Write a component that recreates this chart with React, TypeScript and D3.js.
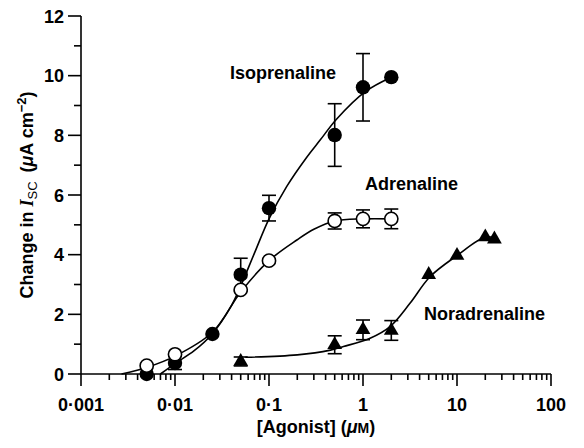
import React, { useEffect, useRef } from 'react'
import * as d3 from 'd3'

// measured points (concentration in µM, change in Isc)
const isoConc = [0.005, 0.01, 0.025, 0.05, 0.1, 0.5, 1, 2]
const isoMean = [0, 0.37, 1.34, 3.33, 5.56, 8.01, 9.61, 9.95]
const isoErr = [0, 0.22, 0, 0.55, 0.43, 1.05, 1.13, 0]

const adrConc = [0.005, 0.01, 0.05, 0.1, 0.5, 1, 2]
const adrMean = [0.28, 0.66, 2.82, 3.8, 5.13, 5.2, 5.2]
const adrErr = [0, 0, 0, 0, 0.27, 0.3, 0.33]

const norConc = [0.05, 0.5, 1, 2, 5, 10, 20, 25]
const norMean = [0.42, 0.98, 1.48, 1.46, 3.33, 3.97, 4.59, 4.52]
const norErr = [0.15, 0.3, 0.33, 0.33, 0, 0, 0, 0]

// fitted curves
const isoCurveX = [0.007, 0.01, 0.016, 0.025, 0.04, 0.05, 0.07, 0.1, 0.154, 0.25, 0.35, 0.525, 1.05, 2]
const isoCurveY = [0, 0.35, 0.78, 1.35, 2.3, 2.95, 4.05, 5.2, 6.28, 7.25, 7.84, 8.55, 9.46, 9.95]
const adrCurveX = [0.0027, 0.005, 0.01, 0.025, 0.05, 0.1, 0.2, 0.3, 0.5, 1, 2]
const adrCurveY = [0, 0.22, 0.6, 1.4, 2.75, 3.8, 4.5, 4.85, 5.13, 5.2, 5.2]
const norCurveX = [0.056, 0.2, 0.45, 0.62, 1.19, 1.94, 3.16, 5.16, 10, 20, 25]
const norCurveY = [0.56, 0.64, 0.8, 0.92, 1.2, 1.59, 2.37, 3.26, 3.97, 4.59, 4.55]

const xTicks = [0.001, 0.01, 0.1, 1, 10, 100]
const xTickLabels = ['0·001', '0·01', '0·1', '1', '10', '100']
const yTicks = [0, 2, 4, 6, 8, 10, 12]

const FONT = '"Liberation Sans", Arial, Helvetica, sans-serif'

const App = () => {
  const ref = useRef<SVGSVGElement | null>(null)

  useEffect(() => {
    if (!ref.current) return
    const svg = d3.select(ref.current)
    svg.selectAll('*').remove()

    const x = d3.scaleLog().domain([0.001, 100]).range([81, 551])
    const y = d3.scaleLinear().domain([0, 12]).range([374, 16])

    // axes
    const xAxis = svg.append('g').attr('transform', `translate(0,${y(0)})`)
    const minor: number[] = []
    for (let e = -3; e < 2; e++) for (let m = 2; m < 10; m++) minor.push(m * Math.pow(10, e))
    xAxis.append('line').attr('x1', x(0.001)).attr('x2', x(100)).attr('stroke', '#000').attr('stroke-width', 1.6)
    xAxis.selectAll('.minor').data(minor).enter().append('line')
      .attr('x1', d => x(d)).attr('x2', d => x(d)).attr('y1', 0).attr('y2', 6)
      .attr('stroke', '#000').attr('stroke-width', 1.6)
    xAxis.selectAll('.major').data(xTicks).enter().append('line')
      .attr('x1', d => x(d)).attr('x2', d => x(d)).attr('y1', 0).attr('y2', 12)
      .attr('stroke', '#000').attr('stroke-width', 1.6)
    xAxis.selectAll('.lab').data(xTicks).enter().append('text')
      .attr('x', d => x(d)).attr('y', 37).attr('text-anchor', 'middle')
      .style('font-family', FONT).style('font-size', '18px').style('font-weight', 'bold')
      .text((d, i) => xTickLabels[i])

    const yAxis = svg.append('g').attr('transform', `translate(${x(0.001)},0)`)
    yAxis.append('line').attr('y1', y(0)).attr('y2', y(12)).attr('stroke', '#000').attr('stroke-width', 1.6)
    yAxis.selectAll('.minor').data(d3.range(1, 12, 2)).enter().append('line')
      .attr('x1', -7).attr('x2', 0).attr('y1', d => y(d)).attr('y2', d => y(d))
      .attr('stroke', '#000').attr('stroke-width', 1.6)
    yAxis.selectAll('.major').data(yTicks).enter().append('line')
      .attr('x1', -13).attr('x2', 0).attr('y1', d => y(d)).attr('y2', d => y(d))
      .attr('stroke', '#000').attr('stroke-width', 1.6)
    yAxis.selectAll('.lab').data(yTicks).enter().append('text')
      .attr('x', -17).attr('y', d => y(d) + 6.5).attr('text-anchor', 'end')
      .style('font-family', FONT).style('font-size', '18px').style('font-weight', 'bold')
      .text(d => d)

    // curves
    const line = d3.line<[number, number]>()
      .x(d => x(d[0])).y(d => y(d[1]))
      .curve(d3.curveCatmullRom.alpha(0.5))
    const curves = [
      isoCurveX.map((v, i) => [v, isoCurveY[i]] as [number, number]),
      adrCurveX.map((v, i) => [v, adrCurveY[i]] as [number, number]),
      norCurveX.map((v, i) => [v, norCurveY[i]] as [number, number]),
    ]
    curves.forEach(c => {
      svg.append('path').attr('d', line(c)).attr('fill', 'none')
        .attr('stroke', '#000').attr('stroke-width', 1.6)
    })

    // error bars
    const errorBars = (conc: number[], mean: number[], err: number[]) => {
      conc.forEach((c, i) => {
        if (!err[i]) return
        const cx = x(c)
        const g = svg.append('g').attr('stroke', '#000').attr('stroke-width', 1.6)
        g.append('line').attr('x1', cx).attr('x2', cx).attr('y1', y(mean[i] - err[i])).attr('y2', y(mean[i] + err[i]))
        ;[mean[i] - err[i], mean[i] + err[i]].forEach(v => {
          g.append('line').attr('x1', cx - 7).attr('x2', cx + 7).attr('y1', y(v)).attr('y2', y(v))
        })
      })
    }
    errorBars(isoConc, isoMean, isoErr)
    errorBars(adrConc, adrMean, adrErr)
    errorBars(norConc, norMean, norErr)

    // markers
    svg.selectAll('.iso').data(isoConc).enter().append('circle')
      .attr('cx', d => x(d)).attr('cy', (d, i) => y(isoMean[i])).attr('r', 7.2).attr('fill', '#000')
    svg.selectAll('.adr').data(adrConc).enter().append('circle')
      .attr('cx', d => x(d)).attr('cy', (d, i) => y(adrMean[i])).attr('r', 6.6)
      .attr('fill', '#fff').attr('stroke', '#000').attr('stroke-width', 1.6)
    const tri = d3.symbol().type(d3.symbolTriangle).size(95)
    svg.selectAll('.nor').data(norConc).enter().append('path')
      .attr('d', tri() as string)
      .attr('transform', (d, i) => `translate(${x(d)},${y(norMean[i])})`)
      .attr('fill', '#000')

    // curve labels
    const label = (t: string, lx: number, ly: number) =>
      svg.append('text').attr('x', lx).attr('y', ly)
        .style('font-family', FONT).style('font-size', '18px').style('font-weight', 'bold')
        .text(t)
    label('Isoprenaline', 230, 79)
    label('Adrenaline', 365, 190)
    label('Noradrenaline', 424, 320)

    // axis titles
    const xt = svg.append('text').attr('x', (x(0.001) + x(100)) / 2).attr('y', 433).attr('text-anchor', 'middle')
      .style('font-family', FONT).style('font-size', '18px').style('font-weight', 'bold')
    xt.append('tspan').text('[Agonist] (')
    xt.append('tspan').style('font-style', 'italic').text('μ')
    xt.append('tspan').style('font-size', '14px').text('M')
    xt.append('tspan').text(')')

    const yt = svg.append('text').attr('transform', 'translate(33,195) rotate(-90)').attr('text-anchor', 'middle')
      .style('font-family', FONT).style('font-size', '18px').style('font-weight', 'bold')
    yt.append('tspan').text('Change in ')
    yt.append('tspan').style('font-style', 'italic').style('font-family', '"Liberation Serif", serif').text('I')
    yt.append('tspan').attr('dy', 4).style('font-size', '13px').style('font-weight', 'normal').text('SC')
    yt.append('tspan').attr('dy', -4).attr('dx', 9).text('(')
    yt.append('tspan').style('font-style', 'italic').text('μ')
    yt.append('tspan').text('A cm')
    yt.append('tspan').attr('dy', -7).style('font-size', '13px').text('−2')
    yt.append('tspan').attr('dy', 7).text(')')
  }, [])

  return (
    <svg ref={ref} width={584} height={448} style={{ position: 'absolute', left: 0, top: 0, background: '#fff' }} />
  )
}

export default App
